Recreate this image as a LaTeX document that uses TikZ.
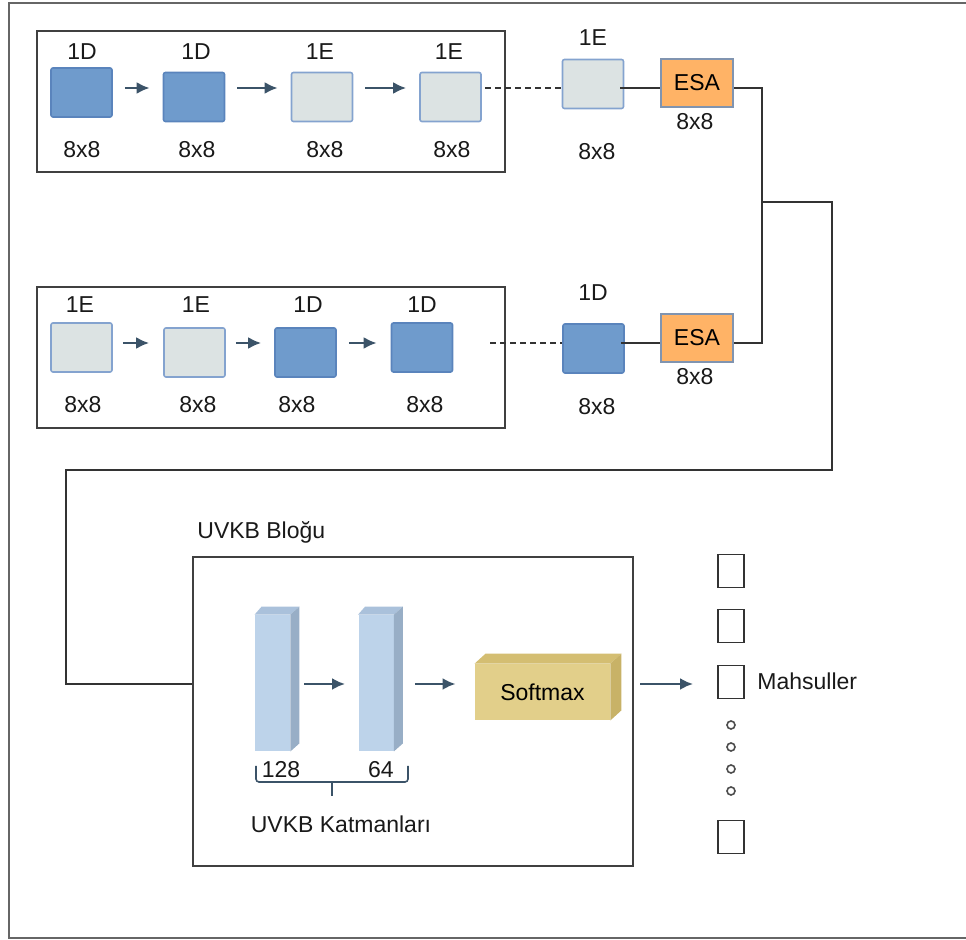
\documentclass[tikz,border=0pt]{standalone}
\usepackage{fontspec}
\setmainfont{Liberation Sans}
\usepackage{xcolor}
\usetikzlibrary{positioning,arrows.meta}
\definecolor{dfill}{HTML}{6F9BCC}
\definecolor{dedge}{HTML}{5A84BC}
\definecolor{efill}{HTML}{DCE3E3}
\definecolor{eedge}{HTML}{84A3CF}
\definecolor{esafill}{HTML}{FFB366}
\definecolor{esaedge}{HTML}{8094B0}
\definecolor{arrcol}{HTML}{3B5368}
\definecolor{barfront}{HTML}{BDD3EA}
\definecolor{barside}{HTML}{98AEC6}
\definecolor{bartop}{HTML}{AAC1DB}
\definecolor{smfront}{HTML}{E2CF8A}
\definecolor{smside}{HTML}{C8B267}
\definecolor{smtop}{HTML}{D4BE72}
\tikzstyle{dsq} = [rectangle, rounded corners=1pt, minimum width=30.5pt, minimum height=24.5pt, inner sep=0pt, draw=dedge, fill=dfill, line width=0.8pt]
\tikzstyle{esq} = [rectangle, rounded corners=1pt, minimum width=30.5pt, minimum height=24.5pt, inner sep=0pt, draw=eedge, fill=efill, line width=0.8pt]
\tikzstyle{esa} = [rectangle, minimum width=36pt, minimum height=24pt, inner sep=0pt, draw=esaedge, fill=esafill, line width=0.8pt]
\tikzstyle{frame} = [rectangle, draw=black!75, line width=1pt, inner sep=0pt]
\tikzstyle{bar} = [rectangle, fill=barfront, minimum width=17.5pt, minimum height=68pt, inner sep=0pt]
\tikzstyle{outbox} = [rectangle, draw=black!80, line width=0.9pt, minimum width=13pt, minimum height=16.5pt, inner sep=0pt]
\tikzstyle{lbl} = [text=black!90, inner sep=0pt]
\tikzstyle{arrow} = [line width=1.4pt, draw=arrcol, -{Latex[length=6.5pt,width=6pt]}]
\tikzstyle{conn} = [line width=0.8pt, draw=black!80]

\begin{document}
\begin{tikzpicture}[x=0.5pt, y=-0.5pt, font=\fontsize{11.5pt}{13pt}\selectfont]
\useasboundingbox (0,0) rectangle (966,940);
\draw[line width=1pt, draw=black!60] (966,3) -- (9,3) -- (9,938) -- (966,938);

% upper row
\node (grp1) [frame, minimum width=234pt, minimum height=70.5pt] at (271,101.5) {};
\node (a1) [dsq] at (81.5,92.5) {};
\node (a2) [dsq] at (194,97) {};
\node (a3) [esq] at (322,97) {};
\node (a4) [esq] at (450.5,97) {};
\node (a5) [esq] at (593,84) {};
\node (esa1) [esa] at (697,83) {ESA};
\node (ta1) [lbl] at (82,52) {1D};
\node (ta2) [lbl] at (196,52) {1D};
\node (ta3) [lbl] at (320,52) {1E};
\node (ta4) [lbl] at (449,52) {1E};
\node (ta5) [lbl] at (593,38) {1E};
\node (sa1) [lbl] at (82,150) {8x8};
\node (sa2) [lbl] at (197,150) {8x8};
\node (sa3) [lbl] at (325,150) {8x8};
\node (sa4) [lbl] at (452,150) {8x8};
\node (sa5) [lbl] at (597,152) {8x8};
\node (sesa1) [lbl] at (695,122) {8x8};
\coordinate (r1) at (0,88);

% lower row
\node (grp2) [frame, minimum width=234pt, minimum height=70.5pt] at (271,357.5) {};
\node (b1) [esq] at (81.5,347.5) {};
\node (b2) [esq] at (194.5,352.5) {};
\node (b3) [dsq] at (305.5,352.5) {};
\node (b4) [dsq] at (422,347.5) {};
\node (b5) [dsq] at (593.5,348.5) {};
\node (esa2) [esa] at (697,338) {ESA};
\node (tb1) [lbl] at (80,305) {1E};
\node (tb2) [lbl] at (196,305) {1E};
\node (tb3) [lbl] at (308,305) {1D};
\node (tb4) [lbl] at (422,305) {1D};
\node (tb5) [lbl] at (593,293) {1D};
\node (sb1) [lbl] at (83,405) {8x8};
\node (sb2) [lbl] at (198,405) {8x8};
\node (sb3) [lbl] at (297,405) {8x8};
\node (sb4) [lbl] at (425,405) {8x8};
\node (sb5) [lbl] at (597,407) {8x8};
\node (sesa2) [lbl] at (695,377) {8x8};
\coordinate (r2) at (0,343);

\draw [arrow, shorten <=6pt, shorten >=6.5pt] (a1.east |- r1) -- (a2.west |- r1);
\draw [arrow, shorten <=6pt, shorten >=6.5pt] (a2.east |- r1) -- (a3.west |- r1);
\draw [arrow, shorten <=6pt, shorten >=6.5pt] (a3.east |- r1) -- (a4.west |- r1);
\draw [conn, dashed, dash pattern=on 3pt off 2pt, shorten <=1.5pt] (a4.east |- r1) -- (a5.west |- r1);
\draw [conn, shorten <=-2pt] (a5.east |- r1) -- (esa1.west |- r1);
\draw [arrow, shorten <=5pt, shorten >=7pt] (b1.east |- r2) -- (b2.west |- r2);
\draw [arrow, shorten <=5pt, shorten >=6.5pt] (b2.east |- r2) -- (b3.west |- r2);
\draw [arrow, shorten <=6pt, shorten >=7pt] (b3.east |- r2) -- (b4.west |- r2);
\draw [conn, dashed, dash pattern=on 3pt off 2pt, shorten <=18.5pt] (b4.east |- r2) -- (b5.west |- r2);
\draw [conn, shorten <=-2pt] (b5.east |- r2) -- (esa2.west |- r2);

% joining the two rows
\coordinate (j) at (762,202);
\coordinate (c1) at (832,470);
\coordinate (c2) at (66,470);
\coordinate (mid) at (0,684);
\draw [conn] (esa1.east |- r1) -| (j);
\draw [conn] (esa2.east |- r2) -| (j);

% UVKB block
\node (uvkb) [frame, minimum width=220pt, minimum height=154.5pt] at (413,711.5) {};
\node (uvkbt) [lbl, anchor=west] at (197,532) {UVKB Bloğu};
\draw [conn] (j) -| (c1) -- (c2) |- (uvkb.west |- mid);
\node (bar1) [bar] at (272.5,683) {};
\node (bar2) [bar] at (376,683) {};
\foreach \b in {bar1,bar2} {
  \fill [bartop] (\b.north west) -- ++(7,-8) -- ([shift={(9,-8)}]\b.north east) -- (\b.north east) -- cycle;
  \fill [barside] (\b.north east) -- ++(9,-8) -- ([shift={(9,-8)}]\b.south east) -- (\b.south east) -- cycle;
}
\node (sm) [rectangle, fill=smfront, minimum width=67.5pt, minimum height=28pt, inner sep=0pt] at (542.5,692) {Softmax};
\fill [smtop] (sm.north west) -- ++(11,-10) -- ([shift={(11,-10)}]sm.north east) -- (sm.north east) -- cycle;
\fill [smside] (sm.north east) -- ++(11,-10) -- ([shift={(11,-10)}]sm.south east) -- (sm.south east) -- cycle;
\draw [arrow, shorten <=7pt, shorten >=6.5pt] (bar1.east |- mid) -- (bar2.west |- mid);
\draw [arrow, shorten <=10.5pt, shorten >=9.5pt] (bar2.east |- mid) -- (sm.west |- mid);

\node (n128) [lbl] at (281,770) {128};
\node (n64) [lbl] at (381,770) {64};
\draw [draw=arrcol, line width=0.8pt, rounded corners=1.5pt] (256,766) |- (408,782) -- (408,766);
\draw [draw=arrcol, line width=0.8pt] (332,782) -- (332,796);
\node (katman) [lbl] at (341,824) {UVKB Katmanları};

% outputs
\node (o1) [outbox] at (731,571) {};
\node (o2) [outbox] at (731,626) {};
\node (o3) [outbox] at (731,682) {};
\node (o4) [outbox] at (731,837) {};
\foreach \y in {725,747,769,791}
  \draw [draw=black!70, line width=0.8pt] (731,\y) circle (2pt);
\node (mahsul) [lbl, anchor=west] at (757,681) {Mahsuller};
\draw [arrow, shorten <=15pt, shorten >=12pt] (sm.east |- mid) -- (o3.west |- mid);

\end{tikzpicture}
\end{document}
